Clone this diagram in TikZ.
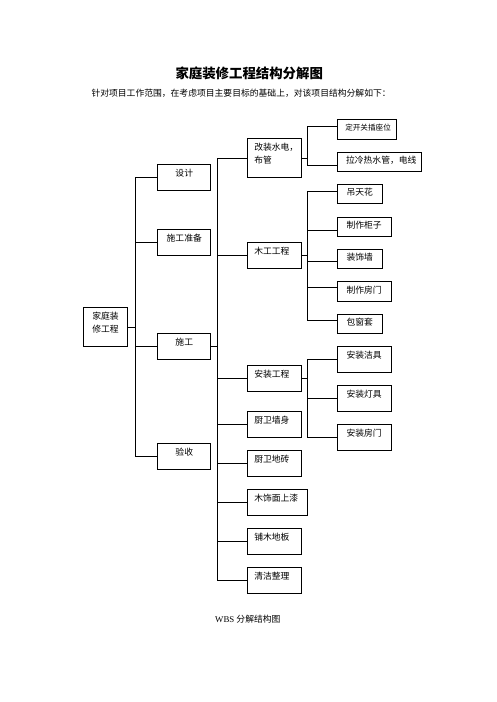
\documentclass[tikz,border=0pt]{standalone}
\usepackage{fontspec}
\setmainfont{Liberation Serif}
\newfontfamily\cjk{Noto Sans CJK SC}
\newcommand\padm{\hspace*{6.5pt}}
\newcommand\padr{\hspace*{8.8pt}}
\begin{document}
\begin{tikzpicture}[x=1pt,y=-1pt,
  base/.style={draw, line width=0.9pt, inner sep=0pt, anchor=north west,
    font=\cjk\fontsize{8.8}{13}\selectfont, text height=11.6pt},
  cbox/.style={base, align=center},
  lbox/.style={base, align=left},
  conn/.style={line width=0.9pt, line cap=rect},
  plain/.style={inner sep=0pt}]
\useasboundingbox (0,0) rectangle (496,702);
\fill[white] (0,0) rectangle (496,702);

% texts
\node[plain, font=\cjk\bfseries\fontsize{13.4}{14}\selectfont] (title) at (249.2,73.3) {家庭装修工程结构分解图};
\node[plain, anchor=west, font=\cjk\fontsize{8.8}{10}\selectfont] (intro) at (91.3,93.3) {针对项目工作范围，在考虑项目主要目标的基础上，对该项目结构分解如下：};
\node[plain, anchor=west, font=\fontsize{8.8}{10}\selectfont] (cap) at (215,619) {WBS {\cjk 分解结构图}};

% root
\node[cbox, text width=44.6pt, text depth=27.1pt, font=\cjk\fontsize{8.8}{12.7}\selectfont] (root) at (82.7,307.3) {家庭装\\修工程};

% level 1
\node[cbox, text width=53pt, text depth=14.4pt] (sj) at (157.3,164.3) {设计};
\node[cbox, text width=53pt, text depth=14.4pt] (sgzb) at (157.3,229.3) {施工准备};
\node[cbox, text width=53pt, text depth=14.1pt] (sg) at (157.3,333.3) {施工};
\node[cbox, text width=53pt, text depth=14.1pt] (ys) at (157.3,443.3) {验收};

% level 2
\node[lbox, text width=53.3pt, text depth=27.4pt, font=\cjk\fontsize{8.8}{13.3}\selectfont] (gz) at (247.3,138.3) {\padm 改装水电，\\\padm 布管};
\node[lbox, text width=53.3pt, text depth=14.4pt] (mg) at (247.3,242.3) {\padm 木工工程};
\node[lbox, text width=53.3pt, text depth=14.4pt] (az) at (247.3,365.3) {\padm 安装工程};
\node[lbox, text width=53.3pt, text depth=14.7pt] (wq) at (247.3,411) {\padm 厨卫墙身};
\node[lbox, text width=53.3pt, text depth=14.1pt] (dz) at (247.3,450.3) {\padm 厨卫地砖};
\node[lbox, text width=60pt, text depth=14.4pt] (mq) at (247.3,489.3) {\padm 木饰面上漆};
\node[lbox, text width=53.3pt, text depth=14.4pt] (pd) at (247.3,528.3) {\padm 铺木地板};
\node[lbox, text width=53.3pt, text depth=14.4pt] (qj) at (247.3,567.3) {\padm 清洁整理};

% level 3
\node[lbox, text width=58.7pt, text depth=8.2pt, font=\cjk\fontsize{7.6}{10}\selectfont] (dk) at (337.3,118.7) {\hspace*{7.5pt}定开关插座位};
\node[lbox, text width=83.4pt, text depth=7.6pt] (ll) at (337.3,151.5) {\hspace*{8.3pt}拉冷热水管，电线};
\node[lbox, text width=45pt, text depth=7.9pt] (dt) at (337.3,183.7) {\padr 吊天花};
\node[lbox, text width=53.3pt, text depth=7.7pt] (zg) at (337.3,216.5) {\padr 制作柜子};
\node[lbox, text width=45pt, text depth=7.4pt] (zs) at (337.3,248.8) {\padr 装饰墙};
\node[lbox, text width=53.3pt, text depth=7.7pt] (zm) at (337.3,281.3) {\padr 制作房门};
\node[lbox, text width=45pt, text depth=7.9pt] (bc) at (337.3,313.5) {\padr 包窗套};
\node[lbox, text width=53.3pt, text depth=14.7pt] (aj) at (337.3,346) {\padr 安装洁具};
\node[lbox, text width=53.3pt, text depth=14.4pt] (ad) at (337.3,385.2) {\padr 安装灯具};
\node[lbox, text width=53.3pt, text depth=14.4pt] (af) at (337.3,424.3) {\padr 安装房门};

% bus x positions
\coordinate (b1) at (135.5,0);
\coordinate (b2) at (217.7,0);
\coordinate (b3) at (307.4,0);

% root -> level 1
\draw[conn] (root.east) -- (root.east -| b1);
\draw[conn] (sj.west -| b1) -- (ys.west -| b1);
\foreach \n in {sj,sgzb,sg,ys} \draw[conn] (\n.west) -- (\n.west -| b1);

% 施工 -> level 2
\draw[conn] (sg.east) -- (sg.east -| b2);
\draw[conn] (gz.west -| b2) -- (qj.west -| b2);
\foreach \n in {gz,mg,az,wq,dz,mq,pd,qj} \draw[conn] (\n.west) -- (\n.west -| b2);

% 改装水电 group
\draw[conn] (gz.east) -- (gz.east -| b3);
\draw[conn] ([yshift=3pt]dk.west -| b3) -- ([yshift=-3.5pt]ll.west -| b3);
\draw[conn] ([yshift=3pt]dk.west) -- ([yshift=3pt]dk.west -| b3);
\draw[conn] ([yshift=-3.5pt]ll.west) -- ([yshift=-3.5pt]ll.west -| b3);

% 木工工程 group
\draw[conn] (mg.east) -- (mg.east -| b3);
\draw[conn] ([yshift=2.8pt]dt.west -| b3) -- ([yshift=2.9pt]bc.west -| b3);
\draw[conn] ([yshift=2.8pt]dt.west) -- ([yshift=2.8pt]dt.west -| b3);
\draw[conn] ([yshift=-3.5pt]zg.west) -- ([yshift=-3.5pt]zg.west -| b3);
\draw[conn] ([yshift=-3pt]zs.west) -- ([yshift=-3pt]zs.west -| b3);
\draw[conn] ([yshift=3.9pt]zm.west) -- ([yshift=3.9pt]zm.west -| b3);
\draw[conn] ([yshift=2.9pt]bc.west) -- ([yshift=2.9pt]bc.west -| b3);

% 安装工程 group
\draw[conn] (az.east) -- (az.east -| b3);
\draw[conn] (aj.west -| b3) -- (af.west -| b3);
\foreach \n in {aj,ad,af} \draw[conn] (\n.west) -- (\n.west -| b3);
\end{tikzpicture}
\end{document}
